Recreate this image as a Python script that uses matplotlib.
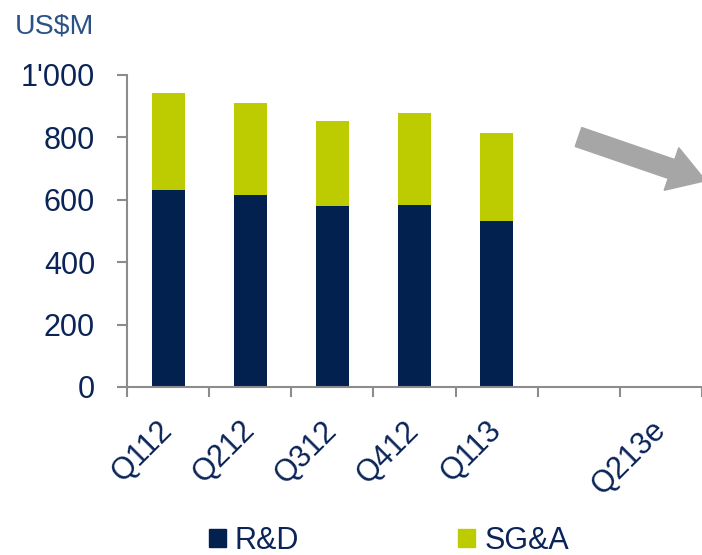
import matplotlib.pyplot as plt
import numpy as np
from matplotlib.patches import FancyArrow, Patch
from matplotlib.ticker import FuncFormatter

quarters = ["Q112", "Q212", "Q312", "Q412", "Q113", "", "Q213e"]
rnd = [630, 615, 578, 582, 531]
sga = [313, 293, 274, 294, 281]

navy = "#02214f"
green = "#bdcc00"
txt = "#0b2458"
grey = "#8c8c8c"

plt.rcParams["font.family"] = ["Liberation Sans", "DejaVu Sans"]

fig = plt.figure(figsize=(7.02, 5.55), dpi=100)
ax = fig.add_axes([127 / 702, 1 - 387 / 555, 575 / 702, (387 - 74.7) / 555])

x = np.arange(len(rnd))
ax.bar(x, rnd, width=0.4, color=navy, label="R&D")
ax.bar(x, sga, width=0.4, bottom=rnd, color=green, label="SG&A")

ax.set_xlim(-0.5, len(quarters) - 0.5)
ax.set_ylim(0, 1000)

# boundaries as major ticks, labels on minor ticks at the centres
ax.set_xticks(np.arange(len(quarters) + 1) - 0.5)
ax.set_xticklabels([])
ax.set_xticks(np.arange(len(quarters)), minor=True)
ax.set_xticklabels(quarters, minor=True, rotation=45, ha="right", va="center",
                   rotation_mode="anchor", fontsize=22, color=txt)
ax.tick_params(axis="x", which="major", direction="out", length=7, width=1.5, color=grey)
ax.tick_params(axis="x", which="minor", length=0, pad=28)

ax.set_yticks(np.arange(0, 1001, 200))
ax.yaxis.set_major_formatter(FuncFormatter(lambda v, p: f"{int(v):,}".replace(",", "'")))
ax.tick_params(axis="y", direction="out", length=7, width=1.5, color=grey,
               labelsize=22, labelcolor=txt, pad=16)

for s in ["top", "right"]:
    ax.spines[s].set_visible(False)
for s in ["left", "bottom"]:
    ax.spines[s].set_color(grey)
    ax.spines[s].set_linewidth(1.5)

fig.text(15 / 702, 1 - 33 / 555, "US$M", fontsize=20.5, color="#2b5287", ha="left", va="baseline")

arrow = FancyArrow(5.785, 4.18, 0.93, -0.32, width=0.2, head_width=0.45, head_length=0.36,
                   length_includes_head=False, color="#a6a6a6", transform=fig.dpi_scale_trans)
fig.add_artist(arrow)

handles = [Patch(color=navy), Patch(color=green)]
fig.legend(handles, ["R&D", "SG&A"], loc="center", bbox_to_anchor=(389 / 702, 1 - 541 / 555),
           ncol=2, frameon=False, fontsize=22, labelcolor=txt, handlelength=0.55,
           handleheight=0.55, handletextpad=0.3, columnspacing=5.2)

fig.savefig("out.png", dpi=100)
